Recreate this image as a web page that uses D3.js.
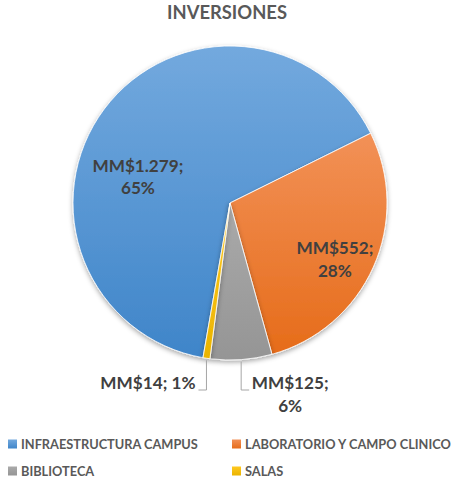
<!DOCTYPE html>
<html><head><meta charset="utf-8">
<script src="https://cdn.jsdelivr.net/npm/d3@7"></script>
<style>
body{margin:0;background:#fff}
svg text{font-family:Lato,"Open Sans",sans-serif;font-weight:bold}
</style>
</head><body>
<svg id="chart" width="452" height="481"></svg>
<script>
// ---- data ----
const title = "INVERSIONES";
const categories = ["INFRAESTRUCTURA CAMPUS", "LABORATORIO Y CAMPO CLINICO", "BIBLIOTECA", "SALAS"];
const values = [1279, 552, 125, 14];
const valueLabels = ["MM$1.279", "MM$552", "MM$125", "MM$14"];
const percentLabels = ["65%", "28%", "6%", "1%"];
const colorsTop = ["#73a9de", "#f29157", "#aaaaaa", "#ffc820"];
const colorsBottom = ["#3f85c9", "#e66c1a", "#959595", "#eab400"];

// ---- layout ----
const cx = 230, cy = 203, R = 157;
const deg = Math.PI / 180;
const start = -170.1 * deg;

const svg = d3.select("#chart");
const defs = svg.append("defs");

// calibrate font sizes so that text widths match the reference
function fitSize(sample, targetWidth) {
  const t = svg.append("text").attr("font-size", 20).text(sample);
  const w = t.node().getComputedTextLength();
  t.remove();
  return 20 * targetWidth / w;
}
const titleSize = fitSize(title, 120);
const labelFont = fitSize("MM$1.279;", 91);
const legendSize = fitSize(categories[0], 177);

const shadow = defs.append("filter").attr("id", "sh")
  .attr("x", "-20%").attr("y", "-20%").attr("width", "140%").attr("height", "140%");
shadow.append("feDropShadow").attr("dx", 0).attr("dy", 2).attr("stdDeviation", 2.5)
  .attr("flood-color", "#000").attr("flood-opacity", 0.35);

categories.forEach((c, i) => {
  const g = defs.append("linearGradient").attr("id", "g" + i)
    .attr("x1", 0).attr("y1", 0).attr("x2", 0).attr("y2", 1);
  g.append("stop").attr("offset", 0).attr("stop-color", colorsTop[i]);
  g.append("stop").attr("offset", 1).attr("stop-color", colorsBottom[i]);
});

// title
svg.append("text").attr("x", 227).attr("y", 19).attr("text-anchor", "middle")
  .attr("font-size", titleSize).attr("fill", "#595959").text(title);

const pie = d3.pie().sort(null).value(d => d).startAngle(start).endAngle(start + 2 * Math.PI);
const arcs = pie(values);
const arc = d3.arc().innerRadius(0).outerRadius(R);

const gPie = svg.append("g").attr("transform", `translate(${cx},${cy})`);
gPie.selectAll("path").data(arcs).join("path")
  .attr("d", arc)
  .attr("fill", (d, i) => `url(#g${i})`)
  .attr("stroke", "#ffffff").attr("stroke-width", 0.8)
  .attr("filter", "url(#sh)");

// labels
const polar = (aDeg, r) => [Math.sin(aDeg * deg) * r, -Math.cos(aDeg * deg) * r];
const lineH = 22.5;
const labelColor = "#404040";
const gLab = svg.append("g").attr("transform", `translate(${cx},${cy})`);

// inside labels (blue, orange)
const insideSpec = [[-72.5, 0.615], [117, 0.75]];
insideSpec.forEach((s, i) => {
  const [x, y] = polar(s[0], R * s[1]);
  const t = gLab.append("text").attr("text-anchor", "middle").attr("font-size", labelFont).attr("fill", labelColor);
  t.append("tspan").attr("x", x).attr("y", y - 2).text(valueLabels[i] + ";");
  t.append("tspan").attr("x", x).attr("y", y - 2 + lineH).text(percentLabels[i]);
});

// outside labels with leader lines (biblioteca, salas)
const leaderY = R + 30;
[2, 3].forEach(i => {
  const a = arcs[i];
  const mid = (a.startAngle + a.endAngle) / 2;
  const px = Math.sin(mid) * R, py = -Math.cos(mid) * R;
  const dir = i === 2 ? 1 : -1;
  gLab.append("path")
    .attr("d", `M${px},${py + 2}V${leaderY}h${dir * 8}`)
    .attr("fill", "none").attr("stroke", "#a6a6a6").attr("stroke-width", 1);
  if (i === 2) {
    const t = gLab.append("text").attr("text-anchor", "middle").attr("font-size", labelFont).attr("fill", labelColor);
    const x0 = px + 49;
    t.append("tspan").attr("x", x0).attr("y", leaderY - 1).text(valueLabels[i] + ";");
    t.append("tspan").attr("x", x0).attr("y", leaderY - 1 + lineH).text(percentLabels[i]);
  } else {
    gLab.append("text").attr("text-anchor", "end").attr("font-size", labelFont).attr("fill", labelColor)
      .attr("x", px - 11).attr("y", leaderY - 1)
      .text(valueLabels[i] + "; " + percentLabels[i]);
  }
});

// legend
const legCols = [8, 232], legRows = [444, 471];
categories.forEach((c, i) => {
  const x = legCols[i % 2], y = legRows[Math.floor(i / 2)];
  svg.append("rect").attr("x", x).attr("y", y - 4.5).attr("width", 9).attr("height", 9)
    .attr("fill", `url(#g${i})`);
  svg.append("text").attr("x", x + 13).attr("y", y + 5).attr("font-size", legendSize)
    .attr("fill", "#595959").text(c);
});
</script>
</body></html>
